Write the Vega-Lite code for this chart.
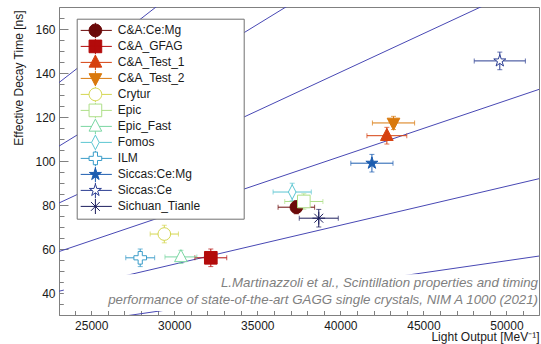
{
  "$schema": "https://vega.github.io/schema/vega-lite/v6.json",
  "width": 480,
  "height": 308,
  "autosize": "none",
  "padding": {"left": 59, "top": 7, "right": 2, "bottom": 29},
  "background": "white",
  "config": {
    "font": "Liberation Sans",
    "view": {"stroke": "#808080", "strokeWidth": 1},
    "axis": {
      "labelFont": "Liberation Sans", "labelFontSize": 12, "labelColor": "#1a1a1a",
      "titleFont": "Liberation Sans", "titleFontSize": 12, "titleFontWeight": "normal", "titleColor": "#1a1a1a",
      "domainColor": "#808080", "tickColor": "#808080", "grid": false
    },
    "legend": {
      "orient": "none", "legendX": 17.7, "legendY": 11.7,
      "padding": 4, "symbolOffset": 7.7, "labelOffset": 15.4, "rowPadding": 0, "clipHeight": 15.4,
      "labelFont": "Liberation Sans", "labelFontSize": 12, "labelColor": "#1a1a1a", "labelLimit": 400,
      "strokeColor": "#707070", "fillColor": "white", "cornerRadius": 0,
      "symbolSize": 160, "symbolStrokeWidth": 1, "symbolOpacity": 1,
      "titleOrient": "right", "titleOpacity": 0, "titleFontSize": 12, "titlePadding": 4, "titleFont": "Liberation Sans"
    }
  },
  "datasets": {
    "pts": [
      {"name": "C&A:Ce:Mg", "lo": 37350, "loErr": 1100, "tau": 79, "tauErr": 3},
      {"name": "C&A_GFAG", "lo": 32200, "loErr": 960, "tau": 56, "tauErr": 4},
      {"name": "C&A_Test_1", "lo": 42800, "loErr": 1200, "tau": 111.5, "tauErr": 3.8},
      {"name": "C&A_Test_2", "lo": 43200, "loErr": 1270, "tau": 117.3, "tauErr": 3},
      {"name": "Crytur", "lo": 29400, "loErr": 850, "tau": 66.8, "tauErr": 4},
      {"name": "Epic", "lo": 37800, "loErr": 1150, "tau": 81.6, "tauErr": 3.5},
      {"name": "Epic_Fast", "lo": 30400, "loErr": 960, "tau": 56.4, "tauErr": 3},
      {"name": "Fomos", "lo": 37100, "loErr": 1150, "tau": 85.9, "tauErr": 4},
      {"name": "ILM", "lo": 27950, "loErr": 870, "tau": 56, "tauErr": 4},
      {"name": "Siccas:Ce:Mg", "lo": 41900, "loErr": 1270, "tau": 99, "tauErr": 4},
      {"name": "Siccas:Ce", "lo": 49600, "loErr": 1540, "tau": 145.5, "tauErr": 4},
      {"name": "Sichuan_Tianle", "lo": 38700, "loErr": 1175, "tau": 74, "tauErr": 4}
    ],
    "lines": [
      {"k": 170, "lo": 23060, "tau": 135.65}, {"k": 170, "lo": 51960, "tau": 305.65},
      {"k": 216, "lo": 23060, "tau": 106.76}, {"k": 216, "lo": 51960, "tau": 240.56},
      {"k": 285, "lo": 23060, "tau": 80.91}, {"k": 285, "lo": 51960, "tau": 182.32},
      {"k": 392, "lo": 23060, "tau": 58.83}, {"k": 392, "lo": 51960, "tau": 132.55},
      {"k": 565, "lo": 23060, "tau": 40.81}, {"k": 565, "lo": 51960, "tau": 91.96},
      {"k": 915, "lo": 23060, "tau": 25.2}, {"k": 915, "lo": 51960, "tau": 56.79}
    ]
  },
  "layer": [
    {
      "data": {"name": "lines"},
      "mark": {"type": "line", "clip": true, "color": "#4848b4", "strokeWidth": 1},
      "encoding": {
        "x": {"field": "lo", "type": "quantitative", "scale": {"domain": [23060, 51960], "nice": false, "zero": false},
          "axis": {"values": [25000, 30000, 35000, 40000, 45000, 50000], "format": "d", "tickSize": -9, "labelPadding": 14,
            "title": "Light Output [MeV⁻¹]", "titleAnchor": "end", "titleAlign": "right", "titleX": 480, "titleY": 25, "titleBaseline": "alphabetic"}},
        "y": {"field": "tau", "type": "quantitative", "scale": {"domain": [30, 170], "nice": false, "zero": false},
          "axis": {"values": [40, 60, 80, 100, 120, 140, 160], "tickSize": -9, "labelPadding": 13,
            "title": "Effective Decay Time [ns]", "titleAnchor": "end", "titleAlign": "right", "titleX": -41, "titleY": 3, "titleBaseline": "middle"}},
        "detail": {"field": "k", "type": "nominal"}
      }
    },
    {
      "data": {"values": [{"box": "annotation"}]},
      "mark": {"type": "rect", "fill": "white", "stroke": null},
      "encoding": {
        "x": {"datum": 23350, "type": "quantitative", "axis": null},
        "x2": {"datum": 51960},
        "y": {"datum": 31.8, "type": "quantitative", "axis": null},
        "y2": {"datum": 48.5}
      }
    },
    {
      "data": {"values": [{"t": "L.Martinazzoli et al., Scintillation properties and timing"}]},
      "mark": {"type": "text", "align": "right", "baseline": "middle", "font": "Liberation Sans", "fontStyle": "italic", "fontSize": 13.3, "color": "#808080"},
      "encoding": {
        "x": {"datum": 51900, "type": "quantitative", "axis": null},
        "y": {"datum": 44.5, "type": "quantitative", "axis": null},
        "text": {"field": "t"}
      }
    },
    {
      "data": {"values": [{"t": "performance of state-of-the-art GAGG single crystals, NIM A 1000 (2021)"}]},
      "mark": {"type": "text", "align": "right", "baseline": "middle", "font": "Liberation Sans", "fontStyle": "italic", "fontSize": 13.3, "color": "#808080"},
      "encoding": {
        "x": {"datum": 51900, "type": "quantitative", "axis": null},
        "y": {"datum": 36.8, "type": "quantitative", "axis": null},
        "text": {"field": "t"}
      }
    },
    {
      "data": {"name": "pts"},
      "mark": {"type": "errorbar", "ticks": {"size": 5, "thickness": 1}, "thickness": 1},
      "encoding": {
        "x": {"field": "lo", "type": "quantitative", "axis": null},
        "xError": {"field": "loErr"},
        "y": {"field": "tau", "type": "quantitative", "axis": null},
        "color": {"field": "name", "type": "nominal", "legend": null,
          "scale": {"domain": ["C&A:Ce:Mg", "C&A_GFAG", "C&A_Test_1", "C&A_Test_2", "Crytur", "Epic", "Epic_Fast", "Fomos", "ILM", "Siccas:Ce:Mg", "Siccas:Ce", "Sichuan_Tianle"],
            "range": ["#6b0a0a", "#b30b0b", "#d6400f", "#d9790d", "#d4d650", "#aedf88", "#7ad6a2", "#5cc6d2", "#3a9cc9", "#1c5db0", "#2b3d92", "#1d1f5e"]}}
      }
    },
    {
      "data": {"name": "pts"},
      "mark": {"type": "errorbar", "ticks": {"size": 5, "thickness": 1}, "thickness": 1},
      "encoding": {
        "y": {"field": "tau", "type": "quantitative", "axis": null},
        "yError": {"field": "tauErr"},
        "x": {"field": "lo", "type": "quantitative", "axis": null},
        "color": {"field": "name", "type": "nominal", "legend": null}
      }
    },
    {
      "data": {"name": "pts"},
      "mark": {"type": "point", "size": 160, "strokeWidth": 1, "opacity": 1},
      "encoding": {
        "x": {"field": "lo", "type": "quantitative",
          "axis": {"orient": "bottom", "values": [24000, 26000, 27000, 28000, 29000, 31000, 32000, 33000, 34000, 36000, 37000, 38000, 39000, 41000, 42000, 43000, 44000, 46000, 47000, 48000, 49000, 51000],
            "tickSize": -5, "labels": false, "domain": false, "title": null}},
        "y": {"field": "tau", "type": "quantitative",
          "axis": {"orient": "left", "values": [35, 45, 50, 55, 65, 70, 75, 85, 90, 95, 105, 110, 115, 125, 130, 135, 145, 150, 155, 165],
            "tickSize": -5, "labels": false, "domain": false, "title": null}},
        "shape": {"field": "name", "type": "nominal", "legend": null,
          "scale": {"domain": ["C&A:Ce:Mg", "C&A_GFAG", "C&A_Test_1", "C&A_Test_2", "Crytur", "Epic", "Epic_Fast", "Fomos", "ILM", "Siccas:Ce:Mg", "Siccas:Ce", "Sichuan_Tianle"],
            "range": [
              "circle", "square",
              "M 0 -1.15 L 1 0.75 L -1 0.75 Z",
              "M 0 1.15 L 1 -0.75 L -1 -0.75 Z",
              "circle", "square",
              "M 0 -1.15 L 1 0.75 L -1 0.75 Z",
              "M 0 -1.15 L 0.6 0 L 0 1.15 L -0.6 0 Z",
              "M -0.33 -1 L 0.33 -1 L 0.33 -0.33 L 1 -0.33 L 1 0.33 L 0.33 0.33 L 0.33 1 L -0.33 1 L -0.33 0.33 L -1 0.33 L -1 -0.33 L -0.33 -0.33 Z",
              "M 0 -1 L 0.224 -0.309 L 0.951 -0.309 L 0.363 0.118 L 0.588 0.809 L 0 0.382 L -0.588 0.809 L -0.363 0.118 L -0.951 -0.309 L -0.224 -0.309 Z",
              "M 0 -1 L 0.224 -0.309 L 0.951 -0.309 L 0.363 0.118 L 0.588 0.809 L 0 0.382 L -0.588 0.809 L -0.363 0.118 L -0.951 -0.309 L -0.224 -0.309 Z",
              "M -1 0 L 1 0 M 0 -1 L 0 1 M -0.7 -0.7 L 0.7 0.7 M -0.7 0.7 L 0.7 -0.7"
            ]}},
        "fill": {"field": "name", "type": "nominal", "legend": null,
          "scale": {"domain": ["C&A:Ce:Mg", "C&A_GFAG", "C&A_Test_1", "C&A_Test_2", "Crytur", "Epic", "Epic_Fast", "Fomos", "ILM", "Siccas:Ce:Mg", "Siccas:Ce", "Sichuan_Tianle"],
            "range": ["#6b0a0a", "#b30b0b", "#d6400f", "#d9790d", "white", "white", "white", "white", "white", "#1c5db0", "white", "white"]}},
        "stroke": {"field": "name", "type": "nominal", "legend": null,
          "scale": {"domain": ["C&A:Ce:Mg", "C&A_GFAG", "C&A_Test_1", "C&A_Test_2", "Crytur", "Epic", "Epic_Fast", "Fomos", "ILM", "Siccas:Ce:Mg", "Siccas:Ce", "Sichuan_Tianle"],
            "range": ["#6b0a0a", "#b30b0b", "#d6400f", "#d9790d", "#d4d650", "#aedf88", "#7ad6a2", "#5cc6d2", "#3a9cc9", "#1c5db0", "#2b3d92", "#1d1f5e"]}}
      }
    },
    {
      "data": {"name": "pts"},
      "mark": {"type": "point", "size": 160, "strokeWidth": 1, "opacity": 0},
      "encoding": {
        "x": {"field": "lo", "type": "quantitative", "axis": null},
        "y": {"field": "tau", "type": "quantitative", "axis": null},
        "shape": {"field": "name", "type": "nominal", "title": "———",
          "legend": {"labelFontSize": 12, "rowPadding": 0, "clipHeight": 15.4, "labelLimit": 400, "titleOrient": "right", "titleOpacity": 0, "titlePadding": 4},
          "scale": {"domain": ["C&A:Ce:Mg", "C&A_GFAG", "C&A_Test_1", "C&A_Test_2", "Crytur", "Epic", "Epic_Fast", "Fomos", "ILM", "Siccas:Ce:Mg", "Siccas:Ce", "Sichuan_Tianle"],
            "range": [
              "M -2.6 0 L 2.6 0 M 0 -1.3 L 0 1.3 M -1 0 A 1 1 0 1 1 1 0 A 1 1 0 1 1 -1 0 Z",
              "M -2.6 0 L 2.6 0 M 0 -1.3 L 0 1.3 M -1 -1 L 1 -1 L 1 1 L -1 1 Z",
              "M -2.6 0 L 2.6 0 M 0 -1.35 L 0 1.3 M 0 -1.15 L 1 0.75 L -1 0.75 Z",
              "M -2.6 0 L 2.6 0 M 0 -1.3 L 0 1.35 M 0 1.15 L 1 -0.75 L -1 -0.75 Z",
              "M -2.6 0 L -1 0 M 1 0 L 2.6 0 M 0 -1.3 L 0 -1 M 0 1 L 0 1.3 M -1 0 A 1 1 0 1 1 1 0 A 1 1 0 1 1 -1 0 Z",
              "M -2.6 0 L -1 0 M 1 0 L 2.6 0 M 0 -1.3 L 0 -1 M 0 1 L 0 1.3 M -1 -1 L 1 -1 L 1 1 L -1 1 Z",
              "M -2.6 0 L -0.6 0 M 0.6 0 L 2.6 0 M 0 -1.35 L 0 -1.15 M 0 0.75 L 0 1.3 M 0 -1.15 L 1 0.75 L -1 0.75 Z",
              "M -2.6 0 L -0.6 0 M 0.6 0 L 2.6 0 M 0 -1.35 L 0 -1.15 M 0 1.15 L 0 1.35 M 0 -1.15 L 0.6 0 L 0 1.15 L -0.6 0 Z",
              "M -2.6 0 L -1 0 M 1 0 L 2.6 0 M 0 -1.3 L 0 -1 M 0 1 L 0 1.3 M -0.33 -1 L 0.33 -1 L 0.33 -0.33 L 1 -0.33 L 1 0.33 L 0.33 0.33 L 0.33 1 L -0.33 1 L -0.33 0.33 L -1 0.33 L -1 -0.33 L -0.33 -0.33 Z",
              "M -2.6 0 L 2.6 0 M 0 -1.3 L 0 1.3 M 0 -1 L 0.224 -0.309 L 0.951 -0.309 L 0.363 0.118 L 0.588 0.809 L 0 0.382 L -0.588 0.809 L -0.363 0.118 L -0.951 -0.309 L -0.224 -0.309 Z",
              "M -2.6 0 L -0.53 0 M 0.53 0 L 2.6 0 M 0 -1.3 L 0 -1 M 0 0.382 L 0 1.3 M 0 -1 L 0.224 -0.309 L 0.951 -0.309 L 0.363 0.118 L 0.588 0.809 L 0 0.382 L -0.588 0.809 L -0.363 0.118 L -0.951 -0.309 L -0.224 -0.309 Z",
              "M -2.6 0 L 2.6 0 M 0 -1.3 L 0 1.3 M -0.7 -0.7 L 0.7 0.7 M -0.7 0.7 L 0.7 -0.7"
            ]}},
        "fill": {"field": "name", "type": "nominal", "title": "———",
          "legend": {"labelFontSize": 12, "rowPadding": 0, "clipHeight": 15.4, "labelLimit": 400, "titleOrient": "right", "titleOpacity": 0, "titlePadding": 4},
          "scale": {"domain": ["C&A:Ce:Mg", "C&A_GFAG", "C&A_Test_1", "C&A_Test_2", "Crytur", "Epic", "Epic_Fast", "Fomos", "ILM", "Siccas:Ce:Mg", "Siccas:Ce", "Sichuan_Tianle"],
            "range": ["#6b0a0a", "#b30b0b", "#d6400f", "#d9790d", "white", "white", "white", "white", "white", "#1c5db0", "white", "white"]}},
        "stroke": {"field": "name", "type": "nominal", "title": "———",
          "legend": {"labelFontSize": 12, "rowPadding": 0, "clipHeight": 15.4, "labelLimit": 400, "titleOrient": "right", "titleOpacity": 0, "titlePadding": 4},
          "scale": {"domain": ["C&A:Ce:Mg", "C&A_GFAG", "C&A_Test_1", "C&A_Test_2", "Crytur", "Epic", "Epic_Fast", "Fomos", "ILM", "Siccas:Ce:Mg", "Siccas:Ce", "Sichuan_Tianle"],
            "range": ["#6b0a0a", "#b30b0b", "#d6400f", "#d9790d", "#d4d650", "#aedf88", "#7ad6a2", "#5cc6d2", "#3a9cc9", "#1c5db0", "#2b3d92", "#1d1f5e"]}}
      }
    }
  ],
  "resolve": {
    "scale": {"shape": "independent", "fill": "independent", "stroke": "independent"},
    "axis": {"x": "independent", "y": "independent"}
  }
}
